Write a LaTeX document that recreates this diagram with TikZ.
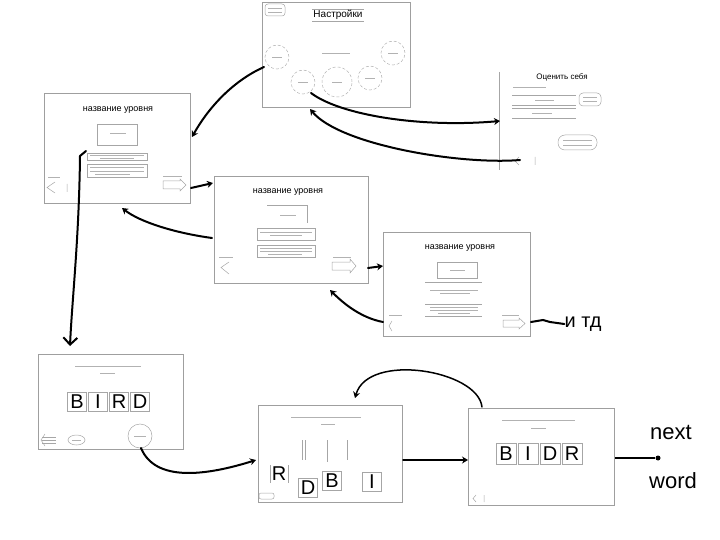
\documentclass[tikz,border=0pt]{standalone}
\usepackage{fontspec}
\setmainfont{Liberation Sans}
\usetikzlibrary{arrows.meta,calc,shapes.geometric}
\tikzset{
  screen/.style={draw=gray!75,line width=0.7pt,inner sep=0pt},
  thinln/.style={draw=gray!70,line width=0.5pt},
  scrib/.style={draw=gray!60,line width=0.9pt},
  flow/.style={line width=2pt,line cap=round,-{Stealth[length=6pt,width=7pt]}},
  letter/.style={draw=gray!70,line width=0.6pt,minimum width=19pt,minimum height=19pt,inner sep=0pt,font=\fontsize{20}{20}\selectfont},
  ttl/.style={font=\fontsize{9}{9}\selectfont,inner sep=0pt},
  hand/.style={font=\fontsize{20}{20}\selectfont,inner sep=0pt},
  dot/.style={circle,fill=black,inner sep=0pt,minimum size=5pt},
}
\begin{document}
\begin{tikzpicture}[x=1pt,y=-1pt]
\useasboundingbox (0,0) rectangle (720,540);

% ---------- main menu ----------
\node[screen,minimum width=148pt,minimum height=105pt] (menu) at (336,54.5) {};
\draw[thinln,rounded corners=3pt] (265,4) rectangle (285,16);
\draw[scrib,line width=0.6pt] (268,8.5)--(282,8.5) (268,12)--(282,12);
\draw[thinln] (312,9)--(364,9) (312,21)--(364,21);
\node[ttl,font=\fontsize{10}{10}\selectfont] (menutitle) at (338,15) {Настройки};
\draw[scrib] (322,53)--(350,53);
\foreach \n/\x/\y/\r in {c1/277/57/12, c2/303/82/12, c3/337/82/15, c4/370/78/12, c5/393/53/12}{
  \node[circle,draw=gray!60,densely dashed,line width=0.5pt,minimum size=2*\r pt,inner sep=0pt] (\n) at (\x,\y) {};
  \draw[scrib,line width=0.6pt] (\x-5,\y)--(\x+5,\y);
}

% ---------- rate screen ----------
\coordinate (rateTL) at (499,72);
\coordinate (rateBL) at (499,170);
\draw[thinln] (rateTL)--(rateBL);
\node[ttl,font=\fontsize{8}{8}\selectfont] (ratetitle) at (562,77) {Оценить себя};
\draw[scrib,line width=0.6pt] (513,87)--(546,87);
\draw[thinln] (512,95)--(576,95) (512,105)--(576,105) (512,108)--(576,108) (512,118)--(576,118);
\draw[scrib,line width=0.6pt] (535,100)--(554,100) (532,113)--(552,113);
\draw[thinln,rounded corners=4pt] (579,93) rectangle (601,106);
\draw[scrib,line width=0.5pt] (583,97.5)--(597,97.5) (583,101.5)--(597,101.5);
\draw[thinln,rounded corners=7pt] (558,135) rectangle (597,150);
\draw[scrib,line width=0.5pt] (563,140)--(592,140) (563,145)--(592,145);
\draw[thinln] (519,157)--(515,161)--(519,165) (535,157)--(535,165);

% ---------- level 1 ----------
\node[screen,minimum width=146pt,minimum height=110pt] (lvl1) at (117,148) {};
\node[ttl] (l1title) at (118,110) {название уровня};
\draw[thinln] (97,124) rectangle (137,145);
\draw[scrib,line width=0.6pt] (110,133)--(126,133);
\draw[thinln] (87,153) rectangle (147,160);
\draw[scrib,line width=0.5pt] (90,155.5)--(144,155.5) (100,158)--(134,158);
\draw[thinln] (87,164) rectangle (147,177);
\draw[scrib,line width=0.5pt] (90,167.5)--(144,167.5) (90,171)--(144,171) (95,174.5)--(130,174.5);
\draw[scrib,line width=0.6pt] (48,177)--(60,177) (163,176)--(182,176);
\draw[thinln] (55,182)--(47,187.5)--(55,193) (67,184)--(67,192);
\draw[thinln] (163,181)--(180,181)--(180,179)--(186,185)--(180,191)--(180,189)--(163,189)--cycle;

% ---------- level 2 ----------
\node[screen,minimum width=154pt,minimum height=107pt] (lvl2) at (291,229.5) {};
\node[ttl] (l2title) at (288,192) {название уровня};
\draw[thinln] (267,205)--(307,205)--(307,223);
\draw[scrib,line width=0.6pt] (280,215)--(296,215);
\draw[thinln] (257,228) rectangle (315,240);
\draw[scrib,line width=0.5pt] (260,232)--(312,232) (270,235.5)--(302,235.5);
\draw[thinln] (257,245) rectangle (315,257);
\draw[scrib,line width=0.5pt] (260,248.5)--(312,248.5) (260,251.5)--(312,251.5) (268,254.5)--(302,254.5);
\draw[scrib,line width=0.6pt] (219,257)--(233,257) (333,257)--(351,257);
\draw[thinln] (229,262)--(221,267.5)--(229,274);
\draw[thinln] (332,262)--(350,262)--(350,259)--(356,266)--(350,273)--(350,270)--(332,270)--cycle;

% ---------- level 3 ----------
\node[screen,minimum width=147pt,minimum height=104pt] (lvl3) at (456.5,284) {};
\node[ttl] (l3title) at (460,248) {название уровня};
\draw[thinln] (437,262)--(477,262)--(477,278)--(437,278)--cycle;
\draw[scrib,line width=0.6pt] (450,270)--(465,270);
\draw[thinln] (425,282)--(482,282);
\draw[scrib,line width=0.5pt] (430,290)--(478,290) (440,293.5)--(470,293.5);
\draw[thinln] (425,304)--(482,304) (425,316)--(482,316);
\draw[scrib,line width=0.5pt] (430,307.5)--(478,307.5) (430,310.5)--(478,310.5) (438,313.5)--(470,313.5);
\draw[scrib,line width=0.6pt] (389,315)--(402,315) (502,315)--(519,315);
\draw[thinln] (392,321)--(389,326)--(392,331);
\draw[thinln] (503,320)--(519,320)--(519,318)--(525,323.5)--(519,329)--(519,327)--(503,327)--cycle;

% ---------- word screen 1 ----------
\node[screen,minimum width=145pt,minimum height=95pt] (w1) at (110.5,401.5) {};
\draw[scrib,line width=0.6pt] (75,366)--(141,366) (100,373)--(115,373);
\node[letter] (b1) at (77,402) {B};
\node[letter] (b2) at (98,402) {I};
\node[letter] (b3) at (119,402) {R};
\node[letter] (b4) at (140,402) {D};
\draw[thinln] (42,437)--(56,437) (42,440)--(56,440) (42,443)--(56,443);
\draw[thinln] (45,434)--(41,440)--(45,446);
\node[ellipse,draw=gray!70,line width=0.5pt,minimum width=17pt,minimum height=10pt,inner sep=0pt] (w1oval) at (76.5,440) {};
\draw[scrib,line width=0.5pt] (72,440)--(81,440);
\node[circle,draw=gray!70,line width=0.5pt,minimum size=24pt,inner sep=0pt] (w1next) at (140,436) {};
\draw[scrib,line width=0.5pt] (134,436)--(146,436);

% ---------- word screen 2 ----------
\node[screen,minimum width=144pt,minimum height=97pt] (w2) at (330,453.5) {};
\draw[scrib,line width=0.6pt] (291,417)--(361,417) (321,424)--(335,424);
\draw[thinln] (302,440)--(302,460) (305,440)--(305,460) (327,440)--(327,462) (347,440)--(347,460);
\draw[thinln] (270,465)--(270,483) (288,465)--(288,483);
\node[font=\fontsize{20}{20}\selectfont,inner sep=0pt] (r2) at (279,474) {R};
\node[letter] (d2) at (308,488) {D};
\node[letter] (bb2) at (332,481) {B};
\node[letter] (i2) at (372,482) {I};
\draw[thinln,rounded corners=2pt] (259,493) rectangle (274,499);

% ---------- word screen 3 ----------
\node[screen,minimum width=146pt,minimum height=97pt] (w3) at (541,456.5) {};
\draw[scrib,line width=0.6pt] (502,420)--(575,420) (531,428)--(546,428);
\node[letter,minimum width=20pt,minimum height=21pt] (a1) at (506,454) {B};
\node[letter,minimum width=20pt,minimum height=21pt] (a2) at (528,454) {I};
\node[letter,minimum width=20pt,minimum height=21pt] (a3) at (550,454) {D};
\node[letter,minimum width=20pt,minimum height=21pt] (a4) at (572,454) {R};
\draw[thinln] (476,495)--(473,498.5)--(476,502) (484,495)--(484,502);

% ---------- connectors ----------
\coordinate (p1) at (264,67);
\coordinate (p2) at (192,137);
\draw[flow] (p1) .. controls (235,80) and (210,105) .. (p2);

\coordinate (p3) at (311,93);
\coordinate (p4) at (500,121);
\draw[flow] (p3) .. controls (340,115) and (420,128) .. (p4);

\coordinate (p5) at (520,160);
\coordinate (p6) at (310,109);
\draw[flow] (p5) .. controls (460,165) and (340,145) .. (p6);

\coordinate (p7) at (86,151);
\coordinate (p8) at (70,346);
\draw[flow,-{Straight Barb[length=7pt,width=14pt]}] (p7) -- (80,156) .. controls (79,240) and (72,300) .. (p8);

\coordinate (p9) at (191,188);
\coordinate (p10) at (213,183);
\draw[flow] (p9) -- (p10);

\coordinate (p11) at (212,238);
\coordinate (p12) at (122,208);
\draw[flow] (p11) .. controls (175,233) and (140,222) .. (p12);

\coordinate (p13) at (368,268);
\coordinate (p14) at (383,266);
\draw[flow] (p13) -- (p14);

\coordinate (p15) at (383,322);
\coordinate (p16) at (330,290);
\draw[flow] (p15) .. controls (362,318) and (345,305) .. (p16);

\coordinate (p17) at (531,322);
\node[hand] (etc) at (583,324) {и тд};
\draw[line width=2pt,line cap=round] (p17) -- (543,320) -- (550,322) -- (etc.west);

\coordinate (p18) at (141,448);
\coordinate (p19) at (256,460);
\draw[flow] (p18) .. controls (155,482) and (205,476) .. (p19);

\coordinate (p20) at (403,460);
\coordinate (p21) at (468,460);
\draw[flow,line width=1.5pt] (p20) -- (p21);

\coordinate (p22) at (482,407);
\coordinate (p23) at (355,398);
\draw[flow,line width=1.5pt] (p22) .. controls (478,370) and (368,352) .. (p23);

\coordinate (p24) at (615,458);
\node[dot] (enddot) at (658,458) {};
\draw[line width=1.3pt] (p24) -- (enddot);
\node[hand,font=\fontsize{22}{22}\selectfont] (nexttxt) at (671,432) {next};
\node[hand,font=\fontsize{22}{22}\selectfont] (wordtxt) at (673,481) {word};
\end{tikzpicture}
\end{document}
